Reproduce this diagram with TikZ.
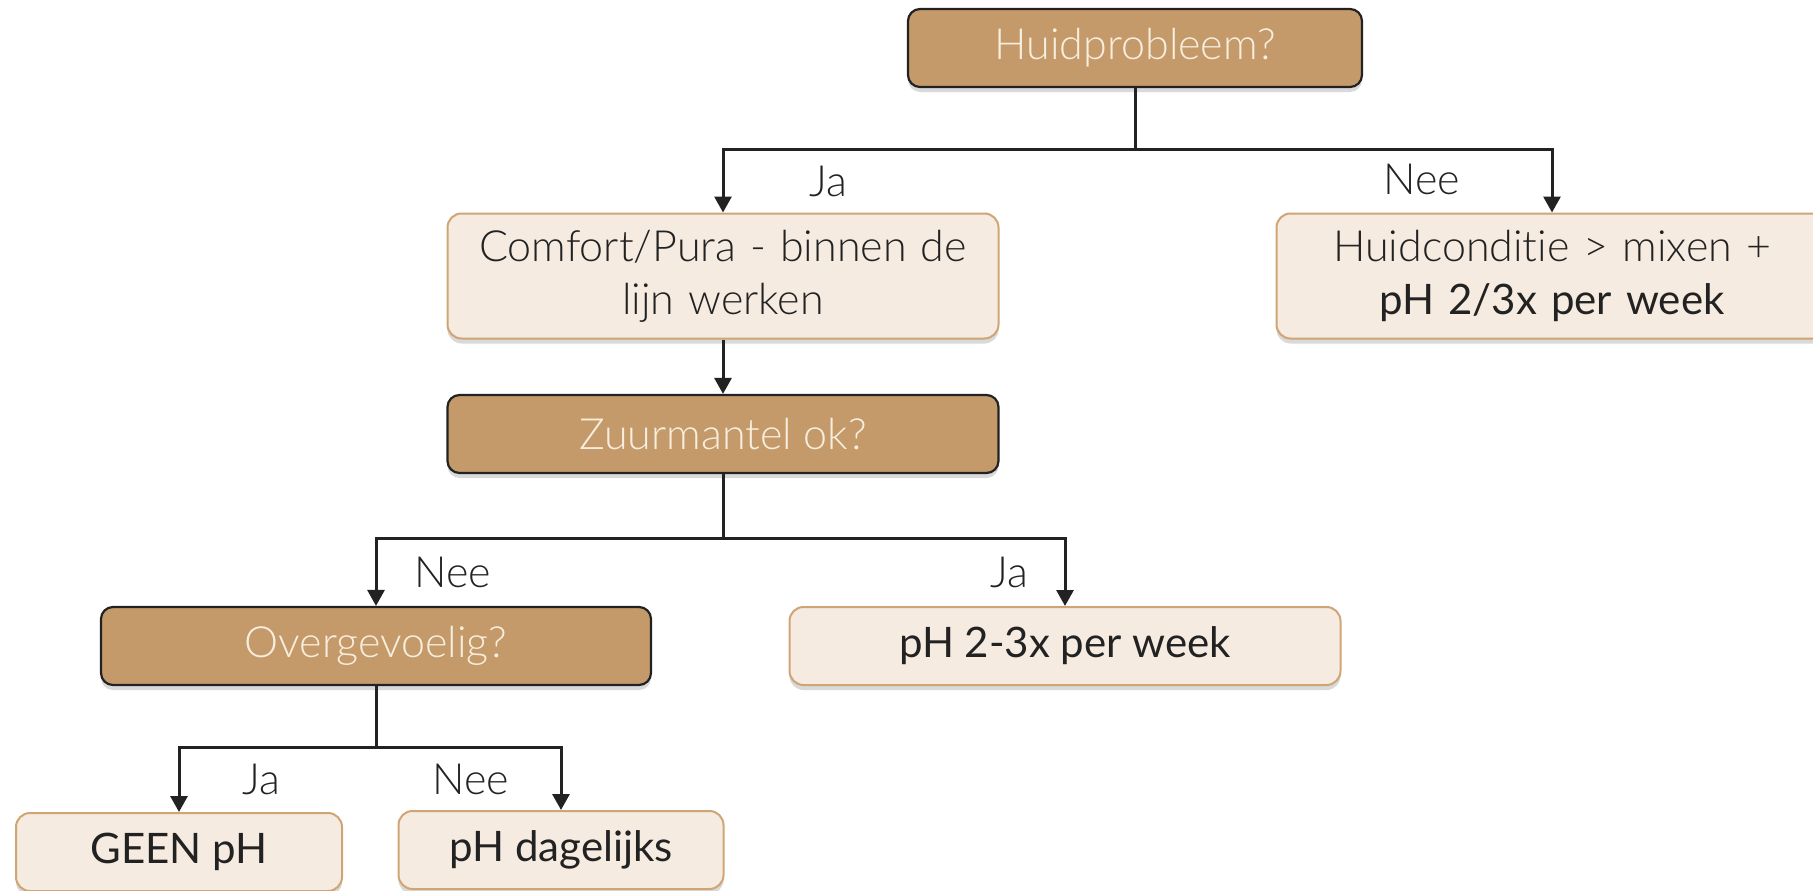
\documentclass[tikz,border=0pt]{standalone}
\usepackage{fontspec}
\setmainfont{Lato}[Ligatures={NoCommon}]
\IfFontExistsTF{Lato Light}{\newfontfamily\lightf{Lato Light}[Ligatures={NoCommon}]}{\newfontfamily\lightf{Lato}[Ligatures={NoCommon}]}
\usetikzlibrary{shadows,arrows.meta}
\definecolor{tanfill}{HTML}{C49A6A}
\definecolor{creamfill}{HTML}{F5EBE0}
\definecolor{qtext}{HTML}{F8EEDD}
\definecolor{lborder}{HTML}{D0A575}
\definecolor{ink}{HTML}{222222}
\tikzset{
  shad/.style={drop shadow={opacity=0.3, shadow xshift=0pt, shadow yshift=-5pt}},
  qbox/.style={draw=ink, line width=2.2pt, fill=tanfill, rounded corners=12pt,
    minimum height=78pt, inner sep=0pt, text=qtext,
    font=\lightf\fontsize{43}{53}\selectfont, shad},
  abox/.style={draw=lborder, line width=2pt, fill=creamfill, rounded corners=14pt,
    inner sep=0pt, text=ink, align=center,
    font=\fontsize{42}{53}\selectfont, shad},
  conn/.style={draw=ink, line width=3pt},
  arr/.style={conn, -{Triangle[length=16pt,width=17pt]}},
  lbl/.style={text=ink, font=\lightf\fontsize{43}{53}\selectfont, inner sep=0pt}
}
\begin{document}
\begin{tikzpicture}[x=1pt,y=-1pt]
\useasboundingbox (0,0) rectangle (1813,891);
% nodes
\node[qbox, minimum width=454pt] (top) at (1135,48) {Huidprobleem?};
\node[abox, minimum width=551pt, minimum height=125pt, text width=540pt] (comfort) at (723,276)
  {{\lightf\fontsize{43}{53}\selectfont Comfort/Pura - binnen de}\\{\lightf\fontsize{43}{53}\selectfont lijn werken}};
\node[abox, minimum width=551pt, minimum height=125pt, text width=540pt] (right) at (1552,276)
  {{\lightf\fontsize{43}{53}\selectfont Huidconditie > mixen +}\\pH 2/3x per week};
\node[qbox, minimum width=551pt] (zuur) at (723,434) {Zuurmantel ok?};
\node[qbox, minimum width=550pt] (over) at (376,646) {Overgevoelig?};
\node[abox, minimum width=551pt, minimum height=78pt] (ph23) at (1065,646) {pH 2-3x per week};
\node[abox, minimum width=326pt, minimum height=78pt] (geen) at (179,852) {GEEN pH};
\node[abox, minimum width=325pt, minimum height=78pt] (dag) at (561,850) {pH dagelijks};
% junctions
\coordinate (j1) at (1135,149);
\coordinate (j2) at (723,538);
\coordinate (j3) at (376,747);
% connectors
\draw[conn] (top.south) -- (j1);
\draw[arr] (j1) -| (comfort.north);
\draw[arr] (j1) -| (right.north);
\draw[arr] (comfort.south) -- (zuur.north);
\draw[conn] (zuur.south) -- (j2);
\draw[arr] (j2) -| (over.north);
\draw[arr] (j2) -| (ph23.north);
\draw[conn] (over.south) -- (j3);
\draw[arr] (j3) -| (geen.north);
\draw[arr] (j3) -| (dag.north);
% labels
\node[lbl] (l1) at (828,181) {Ja};
\node[lbl] (l2) at (1422,179) {Nee};
\node[lbl] (l3) at (453,572) {Nee};
\node[lbl] (l4) at (1009,572) {Ja};
\node[lbl] (l5) at (261,779) {Ja};
\node[lbl] (l6) at (471,779) {Nee};
\end{tikzpicture}
\end{document}
